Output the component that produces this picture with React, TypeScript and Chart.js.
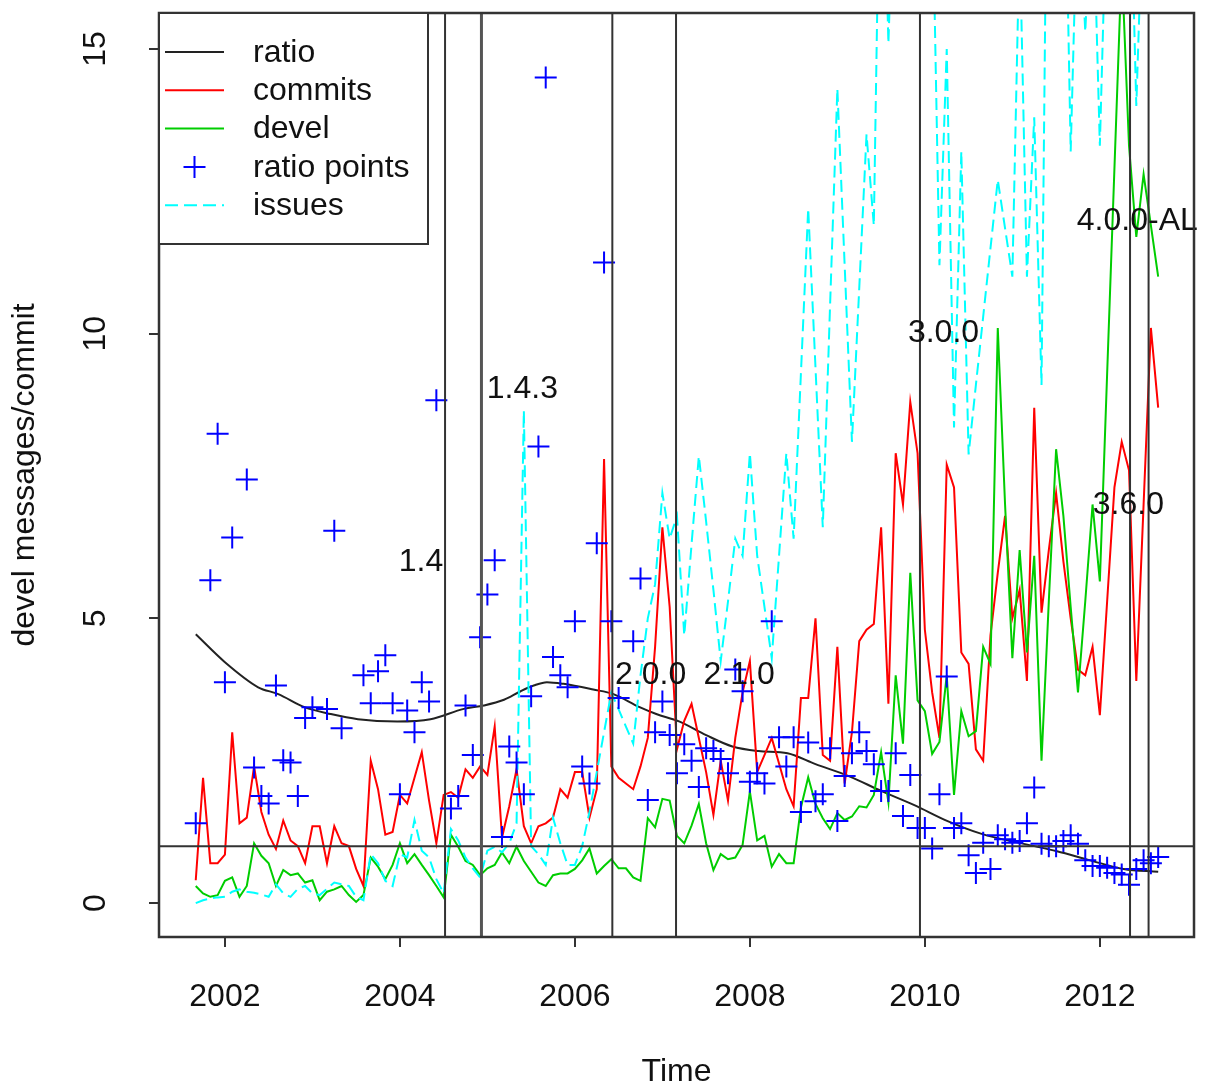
import React, { useEffect, useRef } from 'react';
import { Chart, registerables } from 'chart.js';

Chart.register(...registerables);

// Monthly series, first month = September 2001
const START_YEAR = 2001;
const START_MONTH = 9;

const commits = [
  0.4, 2.2, 0.7, 0.7, 0.85, 3.0, 1.4, 1.5, 2.4, 1.6, 1.2, 0.95, 1.45, 1.1, 1.0, 0.7, 1.35, 1.35, 0.7, 1.35,
  1.05, 1.0, 0.6, 0.3, 2.5, 2.0, 1.2, 1.25, 1.9, 1.75, 2.2, 2.65, 1.8, 1.05, 1.9, 1.95, 1.85, 2.35, 2.2, 2.4,
  2.25, 3.1, 1.15, 1.7, 2.35, 1.35, 1.05, 1.35, 1.4, 1.5, 2.0, 1.85, 2.3, 2.3, 1.5, 2.0, 7.8, 2.4, 2.2, 2.1,
  2.0, 2.4, 2.9, 4.5, 6.6, 5.2, 2.7, 3.2, 3.5, 2.9, 2.3, 1.55, 2.5, 1.8, 2.9, 3.7, 4.25, 2.3, 2.6, 2.9,
  2.45, 2.0, 1.7, 3.6, 3.6, 5.0, 2.6, 2.5, 4.5, 2.1, 3.0, 4.6, 4.8, 4.9, 6.6, 3.5, 7.9, 7.0, 8.8, 7.9,
  4.8, 3.7, 2.9, 7.7, 7.3, 4.4, 4.2, 2.7, 2.5, 4.7, 5.8, 6.8, 5.0, 5.5, 3.9, 8.7, 5.1, 6.2, 7.2, 6.0,
  5.0, 4.1, 4.0, 4.5, 3.3, 5.3, 7.3, 8.1, 7.6, 3.9, 7.0, 10.1, 8.7,
];

const devel = [
  0.3, 0.17, 0.11, 0.14, 0.39, 0.45, 0.11, 0.3, 1.05, 0.83, 0.7, 0.3, 0.58, 0.49, 0.52, 0.36, 0.4, 0.05, 0.2, 0.24,
  0.3, 0.14, 0.02, 0.14, 0.8, 0.64, 0.42, 0.67, 1.05, 0.7, 0.86, 0.67, 0.49, 0.3, 0.1, 1.2, 0.99, 0.74, 0.67, 0.49,
  0.61, 0.67, 0.89, 0.7, 0.99, 0.74, 0.55, 0.36, 0.3, 0.49, 0.52, 0.52, 0.6, 0.75, 0.96, 0.52, 0.65, 0.77, 0.61, 0.61,
  0.45, 0.39, 1.49, 1.33, 1.83, 1.8, 1.18, 1.05, 1.36, 1.74, 1.05, 0.58, 0.86, 0.77, 0.8, 1.02, 1.96, 1.1, 1.18, 0.64,
  0.86, 0.7, 0.7, 1.68, 2.21, 1.74, 1.49, 1.3, 1.58, 1.46, 1.52, 1.7, 1.68, 1.9, 2.65, 1.77, 4.0, 2.8, 5.8, 3.56,
  3.37, 2.62, 2.83, 4.0, 1.9, 3.37, 2.93, 3.02, 4.5, 4.2, 10.1, 7.0, 4.3, 6.2, 4.4, 6.1, 2.5, 5.3, 7.97, 6.8,
  5.2, 3.7, 5.3, 7.0, 5.65, 9.3, 12.9, 16.5, 13.3, 11.7, 12.8, 11.9, 11.0,
];

const issues = [
  0.0, 0.05, 0.08, 0.1, 0.11, 0.2, 0.24, 0.2, 0.18, 0.15, 0.11, 0.33, 0.17, 0.11, 0.25, 0.3, 0.17, 0.14, 0.25, 0.36,
  0.33, 0.3, 0.11, 0.05, 0.86, 0.7, 0.39, 0.3, 0.86, 0.8, 1.46, 0.92, 0.8, 0.42, 0.17, 1.3, 1.1, 0.8, 0.61, 0.45,
  0.92, 0.99, 0.89, 1.05, 1.4, 8.65, 1.0, 0.86, 0.67, 1.5, 1.05, 0.67, 0.67, 1.0, 1.6, 2.3, 3.0, 3.7, 3.4, 3.1,
  2.8, 4.0, 5.0, 5.6, 7.2, 6.4, 6.8, 4.7, 6.3, 7.85, 6.7, 5.5, 4.25, 5.3, 6.4, 6.1, 7.9, 6.1, 5.2, 4.3,
  6.1, 7.9, 6.4, 9.3, 12.2, 9.4, 6.6, 10.5, 14.3, 11.2, 8.1, 10.8, 13.5, 11.9, 20, 15.1, 19, 21, 20, 22,
  19, 18, 11.2, 15.0, 8.35, 13.2, 7.88, 9.1, 10.3, 11.5, 12.7, 11.85, 11.0, 17, 11.0, 13.8, 9.1, 22, 19, 20,
  13.2, 18, 15.3, 18, 13.3, 18, 19, 18, 19, 14.0, 18, 19, 18,
];

// null = no point drawn for that month
const ratioPoints = [
  1.4, null, 5.67, 8.24, 3.88, 6.42, null, 7.44, 2.38, 1.88, 1.75, 3.82, 2.51, 2.47, 1.88, 3.25, 3.44, null, 3.41, 6.54,
  3.07, null, null, 4.0, 3.51, 4.07, 4.35, 3.51, 1.91, 3.38, 3.0, 3.88, 3.54, 8.83, null, 1.66, 1.88, 3.47, 2.6, 4.67,
  5.42, 6.02, 1.16, 2.75, 2.47, 1.91, 3.63, 8.02, 14.5, 4.32, 4.0, 3.79, 4.95, 2.4, 2.1, 6.32, 11.25, 4.95, 3.6, null,
  4.6, 5.7, 1.81, 3.0, 3.54, 2.95, 2.28, 2.79, 2.5, 2.04, 2.72, 2.67, 2.53, 2.28, 4.1, 3.72, 2.13, 2.28, 2.1, 4.95,
  2.91, 2.4, 2.91, 1.6, 2.82, 1.79, 1.91, 2.72, 1.44, 2.23, 2.63, 3.0, 2.67, 2.44, 1.97, 1.97, 2.63, 1.53, 2.25, 1.32,
  1.32, 0.96, 1.91, 3.98, 1.32, 1.4, 0.84, 0.53, 1.06, 0.6, 1.19, 1.12, 1.06, 1.09, 1.4, 2.03, 1.04, 1.0, 1.0, 1.09,
  1.19, 1.04, 0.75, 0.65, 0.65, 0.62, 0.53, 0.5, 0.32, 0.6, 0.75, 0.7, 0.81,
];

// smoothed ratio curve, read at these times
const ratioSmoothT = [
  2001.667, 2002.0, 2002.38, 2002.61, 2002.91, 2003.21, 2003.52, 2003.97, 2004.35, 2004.73, 2004.96, 2005.19,
  2005.38, 2005.53, 2005.68, 2005.87, 2006.21, 2006.44, 2006.74, 2006.93, 2007.19, 2007.5, 2007.8, 2008.1,
  2008.43, 2008.75, 2009.13, 2009.5, 2009.88, 2010.26, 2010.64, 2011.13, 2011.51, 2011.89, 2012.27, 2012.667,
];
const ratioSmoothV = [
  4.72, 4.23, 3.79, 3.67, 3.44, 3.32, 3.23, 3.19, 3.23, 3.41, 3.47, 3.57,
  3.72, 3.82, 3.88, 3.85, 3.75, 3.67, 3.44, 3.32, 3.19, 2.95, 2.75, 2.67,
  2.63, 2.44, 2.23, 1.97, 1.72, 1.44, 1.22, 1.04, 0.91, 0.75, 0.6, 0.55,
];

const xTicks = [2002, 2004, 2006, 2008, 2010, 2012];
const yTicks = [0, 5, 10, 15];

const releaseNames = ['1.4', '1.4.3', '2.0.0', '2.1.0', '3.0.0', '3.6.0', '4.0.0-AL'];
const releaseDates = [2004.516, 2004.932, 2006.428, 2007.156, 2009.944, 2012.345, 2012.557];
const releaseLabelT = [2004.241, 2005.4, 2006.866, 2007.878, 2010.213, 2012.326, 2012.428];
const releaseLabelY = [5.98, 9.02, 4.0, 4.0, 10.0, 6.98, 11.98];
const refLevel = 1;

const legendNames = ['ratio', 'commits', 'devel', 'ratio points', 'issues'];

const X_MIN = 2001.2466;
const X_MAX = 2013.0761;
const Y_MIN = -0.5958;
const Y_MAX = 15.6308;

const FONT = '"Liberation Sans", Arial, Helvetica, sans-serif';
const C_RED = '#ff0000';
const C_GREEN = '#00cd00';
const C_BLUE = '#0000ff';
const C_CYAN = '#00ffff';
const C_BLACK = '#222222';
const C_AXIS = '#333333';

const monthTime = (i: number) => START_YEAR + (START_MONTH - 1 + i) / 12;
const toXY = (arr: (number | null)[]) =>
  arr.map((v, i) => ({ x: monthTime(i), y: v })).filter((p) => p.y !== null);

const overlayPlugin = {
  id: 'overlay',
  afterDatasetsDraw(chart: any) {
    const { ctx, chartArea: a, scales } = chart;
    const xs = scales.x;
    const ys = scales.y;
    ctx.save();
    ctx.strokeStyle = C_AXIS;
    ctx.lineWidth = 2;
    ctx.setLineDash([]);
    // horizontal reference line
    const yr = ys.getPixelForValue(refLevel);
    ctx.beginPath();
    ctx.moveTo(a.left, yr);
    ctx.lineTo(a.right, yr);
    ctx.stroke();
    // release lines
    releaseDates.forEach((d, k) => {
      const px = xs.getPixelForValue(d);
      ctx.lineWidth = k === 1 ? 3 : 2;
      ctx.strokeStyle = k === 1 ? '#555555' : C_AXIS;
      ctx.beginPath();
      ctx.moveTo(px, a.top);
      ctx.lineTo(px, a.bottom);
      ctx.stroke();
    });
    // release labels
    ctx.fillStyle = '#111';
    ctx.font = `32px ${FONT}`;
    ctx.textAlign = 'center';
    ctx.textBaseline = 'middle';
    releaseNames.forEach((n, k) => {
      ctx.fillText(n, xs.getPixelForValue(releaseLabelT[k]), ys.getPixelForValue(releaseLabelY[k]));
    });
    // plot box
    ctx.lineWidth = 2.5;
    ctx.strokeStyle = C_AXIS;
    ctx.strokeRect(a.left, a.top, a.right - a.left, a.bottom - a.top);

    // legend
    const lx0 = a.left;
    const ly0 = a.top;
    const lw = 269;
    const lh = 231;
    ctx.fillStyle = '#ffffff';
    ctx.fillRect(lx0, ly0, lw, lh);
    ctx.lineWidth = 2;
    ctx.strokeRect(lx0, ly0, lw, lh);
    const rowY = (k: number) => ly0 + 39 + k * 38.3;
    const sx0 = lx0 + 6;
    const sx1 = lx0 + 65;
    const styles = [
      { c: C_BLACK, dash: [] as number[] },
      { c: C_RED, dash: [] as number[] },
      { c: C_GREEN, dash: [] as number[] },
      null,
      { c: C_CYAN, dash: [13, 6] },
    ];
    styles.forEach((s, k) => {
      const y = rowY(k);
      if (s) {
        ctx.strokeStyle = s.c;
        ctx.lineWidth = 2;
        ctx.setLineDash(s.dash);
        ctx.beginPath();
        ctx.moveTo(sx0, y);
        ctx.lineTo(sx1, y);
        ctx.stroke();
        ctx.setLineDash([]);
      } else {
        const cx = (sx0 + sx1) / 2;
        ctx.strokeStyle = C_BLUE;
        ctx.lineWidth = 2;
        ctx.beginPath();
        ctx.moveTo(cx - 11, y);
        ctx.lineTo(cx + 11, y);
        ctx.moveTo(cx, y - 11);
        ctx.lineTo(cx, y + 11);
        ctx.stroke();
      }
    });
    ctx.fillStyle = '#111';
    ctx.textAlign = 'left';
    ctx.textBaseline = 'middle';
    legendNames.forEach((n, k) => ctx.fillText(n, lx0 + 94, rowY(k) + 1));

    // y tick labels (rotated, as R does)
    ctx.textAlign = 'center';
    yTicks.forEach((v) => {
      ctx.save();
      ctx.translate(96, ys.getPixelForValue(v));
      ctx.rotate(-Math.PI / 2);
      ctx.fillText(String(v), 0, 0);
      ctx.restore();
    });
    // axis titles
    ctx.save();
    ctx.translate(25, (a.top + a.bottom) / 2);
    ctx.rotate(-Math.PI / 2);
    ctx.fillText('devel messages/commit', 0, 0);
    ctx.restore();
    ctx.fillText('Time', (a.left + a.right) / 2, 1072);
    ctx.restore();
  },
};

export default function App() {
  const ref = useRef<HTMLCanvasElement>(null);
  useEffect(() => {
    document.body.style.margin = '0';
    const canvas = ref.current;
    if (!canvas) return;
    const chart = new Chart(canvas, {
      type: 'line',
      data: {
        datasets: [
          {
            type: 'scatter',
            label: 'ratio points',
            data: toXY(ratioPoints),
            pointStyle: 'cross',
            pointRadius: 11,
            pointBorderWidth: 2,
            pointBorderColor: C_BLUE,
            borderColor: C_BLUE,
            backgroundColor: C_BLUE,
            showLine: false,
            clip: 0,
          } as any,
          {
            type: 'line',
            label: 'issues',
            data: toXY(issues),
            borderColor: C_CYAN,
            borderWidth: 2,
            borderDash: [12, 6],
            pointRadius: 0,
            tension: 0,
            fill: false,
            clip: 0,
          },
          {
            type: 'line',
            label: 'devel',
            data: toXY(devel),
            borderColor: C_GREEN,
            borderWidth: 2,
            pointRadius: 0,
            tension: 0,
            fill: false,
            clip: 0,
          },
          {
            type: 'line',
            label: 'commits',
            data: toXY(commits),
            borderColor: C_RED,
            borderWidth: 2,
            pointRadius: 0,
            tension: 0,
            fill: false,
            clip: 0,
          },
          {
            type: 'line',
            label: 'ratio',
            data: ratioSmoothT.map((t, i) => ({ x: t, y: ratioSmoothV[i] })),
            borderColor: C_BLACK,
            borderWidth: 2,
            pointRadius: 0,
            cubicInterpolationMode: 'monotone',
            fill: false,
            clip: 0,
          },
        ],
      },
      options: {
        responsive: false,
        animation: false,
        devicePixelRatio: 1,
        events: [],
        layout: { padding: { left: 0, top: 11, right: 7, bottom: 0 } },
        plugins: { legend: { display: false }, tooltip: { enabled: false }, title: { display: false } },
        scales: {
          x: {
            type: 'linear',
            min: X_MIN,
            max: X_MAX,
            afterBuildTicks: (s: any) => {
              s.ticks = xTicks.map((v) => ({ value: v }));
            },
            afterFit: (s: any) => {
              s.height = 151;
            },
            border: { display: false },
            grid: {
              display: true,
              drawOnChartArea: false,
              drawTicks: true,
              tickLength: 10,
              color: C_AXIS,
              lineWidth: 2,
            },
            ticks: {
              display: true,
              autoSkip: false,
              maxRotation: 0,
              padding: 31,
              color: '#111',
              font: { size: 32, family: FONT },
              callback: (v: any) => String(v),
            },
          },
          y: {
            type: 'linear',
            min: Y_MIN,
            max: Y_MAX,
            afterBuildTicks: (s: any) => {
              s.ticks = yTicks.map((v) => ({ value: v }));
            },
            afterFit: (s: any) => {
              s.width = 159;
            },
            border: { display: false },
            grid: {
              display: true,
              drawOnChartArea: false,
              drawTicks: true,
              tickLength: 10,
              color: C_AXIS,
              lineWidth: 2,
            },
            ticks: { display: false },
          },
        },
      } as any,
      plugins: [overlayPlugin],
    });
    return () => chart.destroy();
  }, []);
  return (
    <div style={{ width: 1207, height: 1088, background: '#ffffff' }}>
      <canvas ref={ref} width={1207} height={1088} style={{ display: 'block' }} />
    </div>
  );
}
